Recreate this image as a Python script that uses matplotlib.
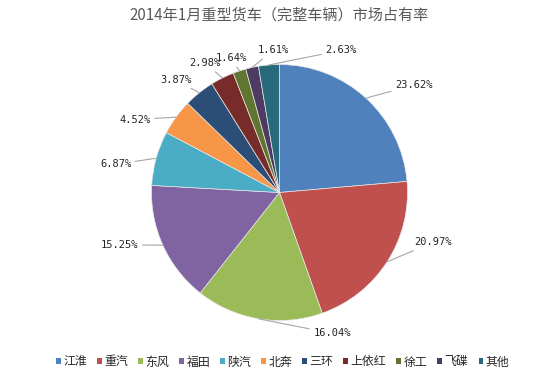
import numpy as np
import matplotlib
matplotlib.use("Agg")
import matplotlib.pyplot as plt
from matplotlib.patches import Patch

plt.rcParams['font.family'] = ['Noto Sans CJK SC', 'DejaVu Sans']

TITLE = "2014年1月重型货车（完整车辆）市场占有率"
brands = ["江淮", "重汽", "东风", "福田", "陕汽", "北奔", "三环", "上依红", "徐工", "飞碟", "其他"]
shares = [23.62, 20.97, 16.04, 15.25, 6.87, 4.52, 3.87, 2.98, 1.64, 1.61, 2.63]
colors = ["#4F81BD", "#C0504D", "#9BBB59", "#8064A2", "#4BACC6", "#F79646",
          "#2C4D75", "#772C2A", "#5F7530", "#4D3B62", "#276A7C"]

# where each label sits (data units, pie radius = 1), copied from the Excel layout
label_pos = [(1.05, 0.84), (1.20, -0.39), (0.41, -1.10), (-1.25, -0.41), (-1.28, 0.22),
             (-1.13, 0.57), (-0.81, 0.88), (-0.58, 1.01), (-0.38, 1.05), (-0.05, 1.11),
             (0.48, 1.11)]

W, H = 550, 376
fig = plt.figure(figsize=(W / 100, H / 100), dpi=100)

# pie centre (279, 192) px, radius 128 px
R = 128.0
cx, cy = 279.5, H - 192.5
ax = fig.add_axes([(cx - 200) / W, (cy - 150) / H, 400 / W, 300 / H])

wedges, _ = ax.pie(shares, colors=colors, startangle=90, counterclock=False, radius=1,
                   wedgeprops=dict(edgecolor='#E8E8E8', linewidth=0.5))
# pie() resets the limits, so set them afterwards
ax.set_xlim(-200 / R, 200 / R)
ax.set_ylim(-150 / R, 150 / R)
ax.set_aspect('equal')
ax.axis('off')

for w, val, (lx, ly) in zip(wedges, shares, label_pos):
    ang = np.deg2rad((w.theta1 + w.theta2) / 2)
    ex, ey = np.cos(ang), np.sin(ang)
    ax.annotate(f"{val:.2f}%", xy=(ex, ey), xytext=(lx, ly),
                ha='center', va='center', fontsize=7.5, family='DejaVu Sans Mono',
                color='#262626',
                arrowprops=dict(arrowstyle='-', color='#A6A6A6', lw=0.8,
                                shrinkA=1, shrinkB=0,
                                connectionstyle="angle,angleA=0,angleB=%f,rad=0"
                                % np.rad2deg(np.arctan2(ly - ey, lx - ex))))

fig.text(0.508, 1 - 15 / H, TITLE, ha='center', va='center', fontsize=10.9, color='#595959')

handles = [Patch(facecolor=c, edgecolor='none') for c in colors]
fig.legend(handles, brands, loc='center', bbox_to_anchor=(0.514, 1 - 362 / H), ncol=11,
           frameon=False, fontsize=8.6, handlelength=0.4, handleheight=0.4,
           handletextpad=0.2, columnspacing=0.85, labelcolor='#262626')

fig.savefig("out.png", dpi=100, facecolor='white')
